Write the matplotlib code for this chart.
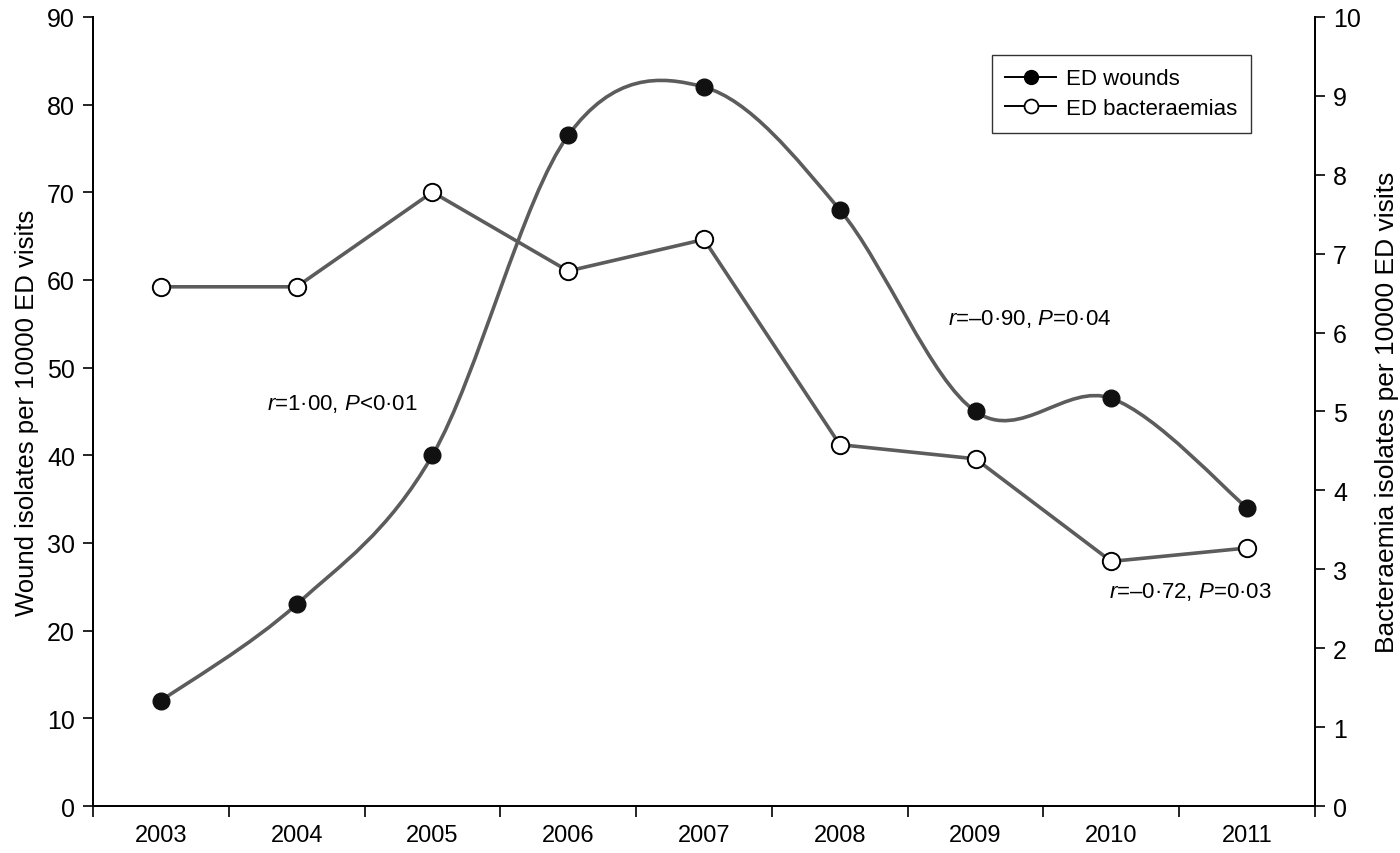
import matplotlib

matplotlib.use("Agg")
import matplotlib.pyplot as plt
import numpy as np
from matplotlib.lines import Line2D
from matplotlib.patches import PathPatch
from matplotlib.path import Path

YEARS = ["2003", "2004", "2005", "2006", "2007", "2008", "2009", "2010", "2011"]
WOUNDS = [12.0, 23.0, 40.0, 76.5, 82.0, 68.0, 45.0, 46.5, 34.0]
BACTERAEMIAS = [6.58, 6.58, 7.78, 6.78, 7.18, 4.58, 4.40, 3.10, 3.27]

LINE_GREY = "#5c5c5c"

plt.rcParams["font.family"] = ["Liberation Sans", "DejaVu Sans"]
plt.rcParams["mathtext.fontset"] = "custom"
plt.rcParams["mathtext.rm"] = "Liberation Sans"
plt.rcParams["mathtext.it"] = "Liberation Sans:italic"


def smooth_path(x, y, tension=1.0 / 6.0):
    # Excel-style smoothed line: cubic Bezier through each point
    n = len(x)
    verts = [(x[0], y[0])]
    codes = [Path.MOVETO]
    for i in range(n - 1):
        i0, i3 = max(i - 1, 0), min(i + 2, n - 1)
        c1 = (x[i] + (x[i + 1] - x[i0]) * tension, y[i] + (y[i + 1] - y[i0]) * tension)
        c2 = (x[i + 1] - (x[i3] - x[i]) * tension, y[i + 1] - (y[i3] - y[i]) * tension)
        verts += [c1, c2, (x[i + 1], y[i + 1])]
        codes += [Path.CURVE4] * 3
    return Path(verts, codes)


fig = plt.figure(figsize=(14, 8.54), dpi=100)
ax = fig.add_axes([0.0664, 0.055, 0.8729, 0.924])
ax2 = ax.twinx()

x = np.arange(len(YEARS), dtype=float)
wounds_right = [w / 9.0 for w in WOUNDS]  # left axis 0-90 maps onto right axis 0-10

# bacteraemias on the right axis, straight segments
ax2.plot(x, BACTERAEMIAS, color=LINE_GREY, linewidth=2.6, zorder=2)
ax2.plot(x, BACTERAEMIAS, linestyle="none", marker="o", markersize=12.5,
         markerfacecolor="white", markeredgecolor="black", markeredgewidth=1.4, zorder=4)

# wounds on the left axis, smoothed curve
ax2.add_patch(PathPatch(smooth_path(x, wounds_right), facecolor="none",
                        edgecolor=LINE_GREY, linewidth=2.6, zorder=2))
ax2.plot(x, wounds_right, linestyle="none", marker="o", markersize=12,
         markerfacecolor="#111111", markeredgecolor="#111111", zorder=4)

ax.set_xlim(-0.5, len(YEARS) - 0.5)
ax.set_ylim(0, 90)
ax2.set_ylim(0, 10)
ax.set_yticks(np.arange(0, 91, 10))
ax2.set_yticks(np.arange(0, 11, 1))
ax.set_xticks(x)
ax.set_xticklabels(YEARS, fontsize=17)
ax.set_xticks(np.arange(-0.5, len(YEARS), 1.0), minor=True)
ax.tick_params(axis="x", which="major", length=0, pad=13)
ax.tick_params(axis="x", which="minor", length=8, width=1.2, direction="out")
ax.tick_params(axis="y", length=7, width=1.2, direction="out", labelsize=18, pad=6)
ax2.tick_params(axis="y", length=7, width=1.2, direction="out", labelsize=18, pad=6)

for a in (ax, ax2):
    a.spines["top"].set_visible(False)
    for side in ("left", "right", "bottom"):
        a.spines[side].set_linewidth(1.3)

ax.set_ylabel("Wound isolates per 10000 ED visits", fontsize=18.5, labelpad=6)
ax2.set_ylabel("Bacteraemia isolates per 10000 ED visits", fontsize=19, labelpad=10)

ax.text(0.78, 46.0, "$r$=1·00, $P$<0·01", fontsize=16, ha="left", va="center")
ax.text(5.80, 55.7, "$r$=–0·90, $P$=0·04", fontsize=16, ha="left", va="center")
ax.text(6.98, 24.5, "$r$=–0·72, $P$=0·03", fontsize=16, ha="left", va="center")

handles = [
    Line2D([], [], color="black", linewidth=1.4, marker="o", markersize=10,
           markerfacecolor="black", markeredgecolor="black"),
    Line2D([], [], color="black", linewidth=1.4, marker="o", markersize=10,
           markerfacecolor="white", markeredgecolor="black", markeredgewidth=1.3),
]
leg = ax2.legend(handles, ["ED wounds", "ED bacteraemias"], loc="upper left",
                 bbox_to_anchor=(992 / 1400, 1 - 56 / 854), bbox_transform=fig.transFigure,
                 fontsize=16, frameon=True, fancybox=False, handlelength=2.3,
                 borderpad=0.6, labelspacing=0.4, handletextpad=0.45, borderaxespad=0)
leg.get_frame().set_edgecolor("black")
leg.get_frame().set_linewidth(1.0)

fig.savefig("out.png", dpi=100)
